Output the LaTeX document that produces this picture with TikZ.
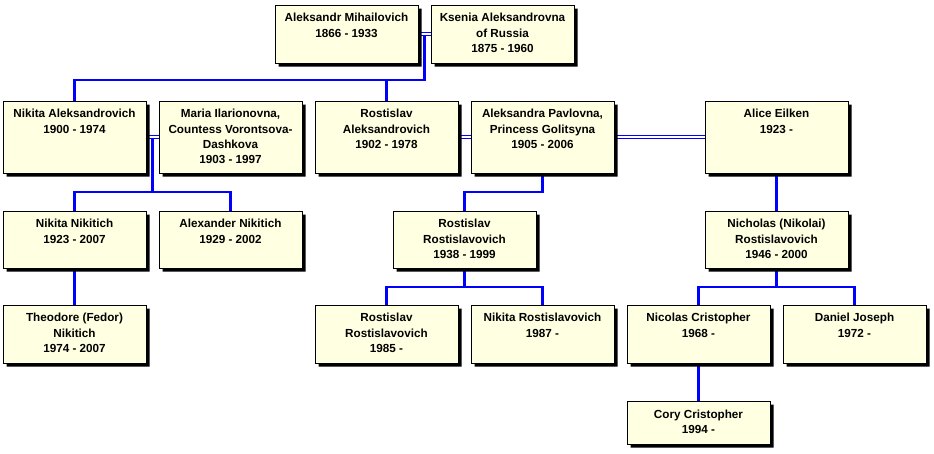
\documentclass[tikz,border=0pt]{standalone}
\usepackage{fontspec}
\setmainfont{Liberation Sans}
\usetikzlibrary{shapes.misc,shadows,backgrounds,calc}
\definecolor{boxfill}{HTML}{FFFFE1}
\definecolor{linkblue}{HTML}{0000FF}
\newcommand\ppl[1]{\begin{tabular}[t]{@{}c@{}}#1\end{tabular}}
\begin{document}
\begin{tikzpicture}[x=1pt,y=-1pt,
  person/.style={chamfered rectangle, chamfered rectangle xsep=2pt, chamfered rectangle ysep=2pt,
    draw=black, line width=1pt, fill=boxfill, inner sep=0pt, outer sep=0pt, minimum width=143pt,
    drop shadow={shadow xshift=3.5pt, shadow yshift=-3.5pt, fill=black, opacity=1}},
  lbl/.style={anchor=base, inner sep=0pt, outer sep=0pt,
    font=\fontsize{11.7}{15.4}\selectfont\bfseries},
  kid/.style={draw=linkblue, line width=2.2pt},
  mar/.style={draw=linkblue, line width=1.6pt, double=white, double distance=1.2pt}]
\path[use as bounding box] (0,0) rectangle (934,453);
% row 0
\node[person, minimum height=58pt] (A1) at (346.5,34) {};
\node[lbl] (A1t) at ([yshift=-16.7pt]A1.north) {\ppl{Aleksandr Mihailovich\\1866 - 1933}};
\node[person, minimum height=58pt] (A2) at (502.5,34) {};
\node[lbl] (A2t) at ([yshift=-16.7pt]A2.north) {\ppl{Ksenia Aleksandrovna\\of Russia\\1875 - 1960}};
% row 1
\node[person, minimum height=72pt] (nA) at (74.5,137) {};
\node[lbl] (nAt) at ([yshift=-16.7pt]nA.north) {\ppl{Nikita Aleksandrovich\\1900 - 1974}};
\node[person, minimum height=72pt] (mA) at (230.5,137) {};
\node[lbl] (mAt) at ([yshift=-16.7pt]mA.north) {\ppl{Maria Ilarionovna,\\Countess Vorontsova-\\Dashkova\\1903 - 1997}};
\node[person, minimum height=72pt] (rA) at (386.5,137) {};
\node[lbl] (rAt) at ([yshift=-16.7pt]rA.north) {\ppl{Rostislav\\Aleksandrovich\\1902 - 1978}};
\node[person, minimum height=72pt] (aP) at (542.5,137) {};
\node[lbl] (aPt) at ([yshift=-16.7pt]aP.north) {\ppl{Aleksandra Pavlovna,\\Princess Golitsyna\\1905 - 2006}};
\node[person, minimum height=72pt] (al) at (776.5,137) {};
\node[lbl] (alt) at ([yshift=-16.7pt]al.north) {\ppl{Alice Eilken\\1923 -}};
% row 2
\node[person, minimum height=57pt] (nN) at (74.5,239.5) {};
\node[lbl] (nNt) at ([yshift=-16.7pt]nN.north) {\ppl{Nikita Nikitich\\1923 - 2007}};
\node[person, minimum height=57pt] (aN) at (230.5,239.5) {};
\node[lbl] (aNt) at ([yshift=-16.7pt]aN.north) {\ppl{Alexander Nikitich\\1929 - 2002}};
\node[person, minimum height=57pt] (rR) at (464.5,239.5) {};
\node[lbl] (rRt) at ([yshift=-16.7pt]rR.north) {\ppl{Rostislav\\Rostislavovich\\1938 - 1999}};
\node[person, minimum height=57pt] (ni) at (776.5,239.5) {};
\node[lbl] (nit) at ([yshift=-16.7pt]ni.north) {\ppl{Nicholas (Nikolai)\\Rostislavovich\\1946 - 2000}};
% row 3
\node[person, minimum height=58pt] (th) at (74.5,334) {};
\node[lbl] (tht) at ([yshift=-16.7pt]th.north) {\ppl{Theodore (Fedor)\\Nikitich\\1974 - 2007}};
\node[person, minimum height=58pt] (r2) at (386.5,334) {};
\node[lbl] (r2t) at ([yshift=-16.7pt]r2.north) {\ppl{Rostislav\\Rostislavovich\\1985 -}};
\node[person, minimum height=58pt] (nR) at (542.5,334) {};
\node[lbl] (nRt) at ([yshift=-16.7pt]nR.north) {\ppl{Nikita Rostislavovich\\1987 -}};
\node[person, minimum height=58pt] (nC) at (698.5,334) {};
\node[lbl] (nCt) at ([yshift=-16.7pt]nC.north) {\ppl{Nicolas Cristopher\\1968 -}};
\node[person, minimum height=58pt] (dJ) at (854.5,334) {};
\node[lbl] (dJt) at ([yshift=-16.7pt]dJ.north) {\ppl{Daniel Joseph\\1972 -}};
% row 4
\node[person, minimum height=43pt] (co) at (698.5,422.5) {};
\node[lbl] (cot) at ([yshift=-17pt]co.north) {\ppl{Cory Cristopher\\1994 -}};
% connectors
\begin{scope}[on background layer]
\coordinate (m0) at ($(A1.east)!0.5!(A2.west)$);
\coordinate (j0) at ($(m0)+(0,46)$);
\draw[kid] (m0) -- (j0) -| (nA.north);
\draw[kid] (rA.north) -- (rA.north |- j0);
\coordinate (m1) at ($(nA.east)!0.5!(mA.west)$);
\coordinate (j1) at ($(m1)+(0,55)$);
\draw[kid] (m1) -- (j1);
\draw[kid] (nN.north) |- (j1) -| (aN.north);
\coordinate (j2) at ($(aP.south)+(0,19)$);
\draw[kid] (aP.south) -- (j2) -| (rR.north);
\draw[kid] (al.south) -- (ni.north);
\coordinate (j3) at ($(rR.south)+(0,19)$);
\draw[kid] (rR.south) -- (j3);
\draw[kid] (r2.north) |- (j3) -| (nR.north);
\coordinate (j4) at ($(ni.south)+(0,19)$);
\draw[kid] (ni.south) -- (j4);
\draw[kid] (nC.north) |- (j4) -| (dJ.north);
\draw[kid] (nN.south) -- (th.north);
\draw[kid] (nC.south) -- (co.north);
\draw[mar] (A1.east) -- (A2.west);
\draw[mar] (nA.east) -- (mA.west);
\draw[mar] (rA.east) -- (aP.west);
\draw[mar] (aP.east) -- (al.west);
\end{scope}
\end{tikzpicture}
\end{document}
